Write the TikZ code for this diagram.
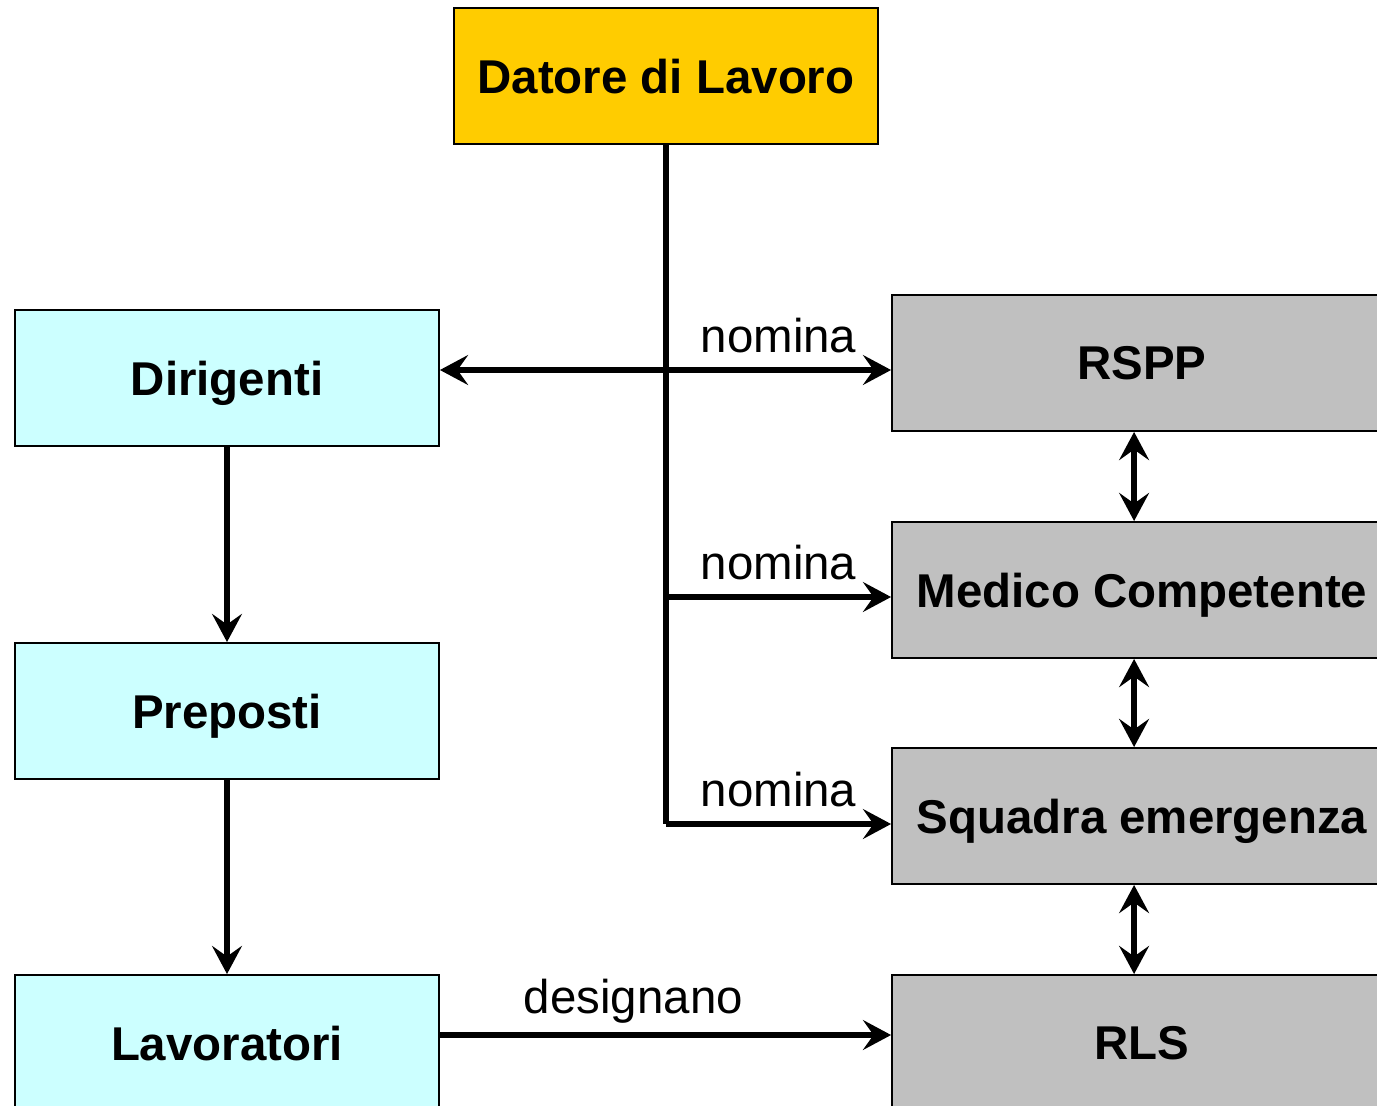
\documentclass[tikz,border=0pt]{standalone}
\usepackage{fontspec}
\setmainfont{Liberation Sans}
\usetikzlibrary{arrows.meta}
\usepackage{xcolor}
\definecolor{bossYellow}{RGB}{255,204,0}
\definecolor{staffCyan}{RGB}{204,255,255}
\definecolor{roleGray}{RGB}{192,192,192}

\begin{document}
\begin{tikzpicture}[x=0.02cm, y=-0.02cm,
    box/.style={draw, line width=1.1pt, minimum height=2.72cm, inner sep=0pt, text depth=0pt,
        font=\fontsize{27}{32}\selectfont\bfseries},
    leftbox/.style={box, fill=staffCyan, minimum width=8.48cm},
    rightbox/.style={box, fill=roleGray, minimum width=10cm},
    link/.style={line width=3.3pt, -{Stealth[length=16pt, width=17pt, inset=6pt]}},
    both/.style={line width=3.3pt, {Stealth[length=16pt, width=17pt, inset=6pt]}-{Stealth[length=16pt, width=17pt, inset=6pt]}},
    tag/.style={font=\fontsize{27}{32}\selectfont, inner sep=0pt, anchor=base}]
    \newcommand\shiftx{4.5pt}

    \useasboundingbox (0,0) rectangle (1377,1106);

    % boxes
    \node[box, fill=bossYellow, minimum width=8.48cm] (dl) at (666,76) {Datore di Lavoro};
    \node[leftbox] (dir) at (227,378) {Dirigenti};
    \node[leftbox] (prep) at (227,711) {Preposti};
    \node[leftbox] (lav) at (227,1043) {Lavoratori};
    \node[rightbox] (rspp) at (1142,363) {RSPP};
    \node[rightbox] (mc) at (1142,590) {Medico Competente};
    \node[rightbox] (sq) at (1142,816) {Squadra emergenza};
    \node[rightbox] (rls) at (1142,1043) {RLS};

    % trunk from the employer
    \coordinate (t1) at (666,370);
    \coordinate (t2) at (666,597);
    \coordinate (t3) at (666,824);
    \draw[line width=3.3pt] (dl.south) -- (t3);

    % draw arrow
    \draw[link] (t1) -- (t1 -| dir.east);
    \draw[link] (t1) -- (t1 -| rspp.west) node[tag, midway, yshift=9.7pt] {nomina};
    \draw[link] (t2) -- (t2 -| mc.west) node[tag, midway, yshift=9.7pt] {nomina};
    \draw[link] (t3) -- (t3 -| sq.west) node[tag, midway, yshift=9.7pt] {nomina};

    \draw[link] (dir.south) -- (prep.north);
    \draw[link] (prep.south) -- (lav.north);

    \coordinate (d1) at (439,1035);
    \draw[link] (d1) -- (d1 -| rls.west) node[tag, pos=0.43, yshift=12.5pt] {designano};

    \draw[both] ([xshift=-\shiftx]rspp.south) -- ([xshift=-\shiftx]mc.north);
    \draw[both] ([xshift=-\shiftx]mc.south) -- ([xshift=-\shiftx]sq.north);
    \draw[both] ([xshift=-\shiftx]sq.south) -- ([xshift=-\shiftx]rls.north);
\end{tikzpicture}
\end{document}
